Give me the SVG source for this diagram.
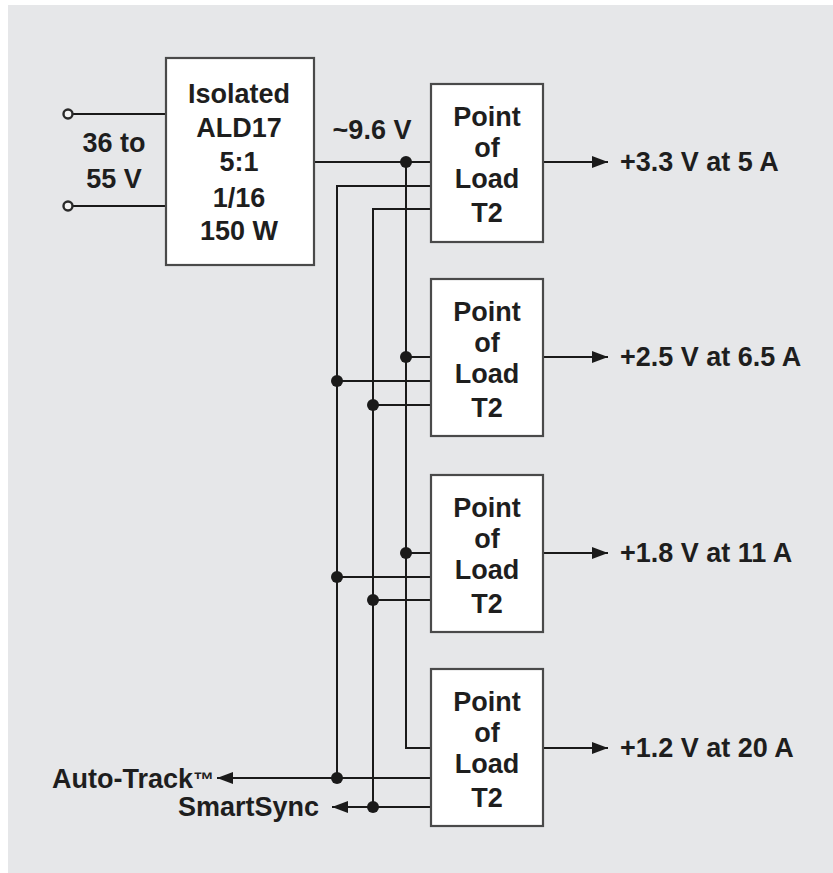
<svg xmlns="http://www.w3.org/2000/svg" width="833" height="873" viewBox="0 0 833 873">
<style>
.bg{fill:#e6e7e9}
.box{fill:#ffffff;stroke:#4a4a4a;stroke-width:2.2}
.w{fill:none;stroke:#1a1a1a;stroke-width:2}
.dot{fill:#1a1a1a}
.t{font-family:"Liberation Sans",Arial,sans-serif;font-weight:bold;font-size:27px;fill:#1e1e1e}
.c{text-anchor:middle}
.term{fill:#f4f4f4;stroke:#2a2a2a;stroke-width:2.4}
</style>
<defs>
<marker id="ar" markerWidth="16" markerHeight="12" refX="16" refY="6" orient="auto" markerUnits="userSpaceOnUse">
<path d="M0,0 L16,6 L0,12 Z" fill="#1a1a1a"/>
</marker>
</defs>
<rect class="bg" x="8" y="5" width="825" height="868"/>
<g id="connectors">
<line class="w" x1="73" y1="114" x2="166" y2="114"/>
<line class="w" x1="73" y1="206" x2="166" y2="206"/>
<line class="w" x1="314" y1="162" x2="431" y2="162"/>
<polyline class="w" points="431,186 337,186 337,778"/>
<polyline class="w" points="431,209 373,209 373,807"/>
<polyline class="w" points="406,162 406,748 431,748"/>
<line class="w" x1="406" y1="357" x2="431" y2="357"/>
<line class="w" x1="337" y1="381" x2="431" y2="381"/>
<line class="w" x1="373" y1="405" x2="431" y2="405"/>
<line class="w" x1="406" y1="553" x2="431" y2="553"/>
<line class="w" x1="337" y1="577" x2="431" y2="577"/>
<line class="w" x1="373" y1="600" x2="431" y2="600"/>
<line class="w" x1="431" y1="778" x2="217" y2="778" marker-end="url(#ar)"/>
<line class="w" x1="431" y1="807" x2="332" y2="807" marker-end="url(#ar)"/>
<line class="w" x1="543" y1="162" x2="608" y2="162" marker-end="url(#ar)"/>
<line class="w" x1="543" y1="357" x2="608" y2="357" marker-end="url(#ar)"/>
<line class="w" x1="543" y1="553" x2="608" y2="553" marker-end="url(#ar)"/>
<line class="w" x1="543" y1="748" x2="608" y2="748" marker-end="url(#ar)"/>
<circle class="dot" cx="406" cy="162" r="6"/>
<circle class="dot" cx="406" cy="357" r="6"/>
<circle class="dot" cx="406" cy="553" r="6"/>
<circle class="dot" cx="337" cy="381" r="6"/>
<circle class="dot" cx="337" cy="577" r="6"/>
<circle class="dot" cx="337" cy="778" r="6"/>
<circle class="dot" cx="373" cy="405" r="6"/>
<circle class="dot" cx="373" cy="600" r="6"/>
<circle class="dot" cx="373" cy="807" r="6"/>
<circle class="term" cx="68" cy="114" r="4.5"/>
<circle class="term" cx="68" cy="206" r="4.5"/>
</g>
<g id="input">
<text class="t c" x="114" y="152">36 to</text>
<text class="t c" x="114" y="188">55 V</text>
</g>
<g id="ald17">
<rect class="box" x="166" y="58" width="148" height="207"/>
<text class="t c" x="239" y="103">Isolated</text>
<text class="t c" x="239" y="137">ALD17</text>
<text class="t c" x="239" y="171">5:1</text>
<text class="t c" x="239" y="207">1/16</text>
<text class="t c" x="239" y="240">150 W</text>
</g>
<g id="bus-label">
<text class="t c" x="372" y="139">~9.6 V</text>
</g>
<g id="pol1">
<rect class="box" x="431" y="84" width="112" height="158"/>
<text class="t c" x="487" y="126">Point</text>
<text class="t c" x="487" y="157">of</text>
<text class="t c" x="487" y="188">Load</text>
<text class="t c" x="487" y="222">T2</text>
</g>
<g id="pol2">
<rect class="box" x="431" y="279" width="112" height="157"/>
<text class="t c" x="487" y="321">Point</text>
<text class="t c" x="487" y="352">of</text>
<text class="t c" x="487" y="383">Load</text>
<text class="t c" x="487" y="417">T2</text>
</g>
<g id="pol3">
<rect class="box" x="431" y="475" width="112" height="157"/>
<text class="t c" x="487" y="517">Point</text>
<text class="t c" x="487" y="548">of</text>
<text class="t c" x="487" y="579">Load</text>
<text class="t c" x="487" y="613">T2</text>
</g>
<g id="pol4">
<rect class="box" x="431" y="669" width="112" height="157"/>
<text class="t c" x="487" y="711">Point</text>
<text class="t c" x="487" y="742">of</text>
<text class="t c" x="487" y="773">Load</text>
<text class="t c" x="487" y="807">T2</text>
</g>
<g id="outputs">
<text class="t" x="620" y="171">+3.3 V at 5 A</text>
<text class="t" x="620" y="366">+2.5 V at 6.5 A</text>
<text class="t" x="620" y="562">+1.8 V at 11 A</text>
<text class="t" x="620" y="757">+1.2 V at 20 A</text>
</g>
<g id="autotrack">
<text class="t" x="52" y="788">Auto-Track<tspan font-size="21" dy="-1">™</tspan></text>
</g>
<g id="smartsync">
<text class="t" x="178" y="816">SmartSync</text>
</g>
</svg>
